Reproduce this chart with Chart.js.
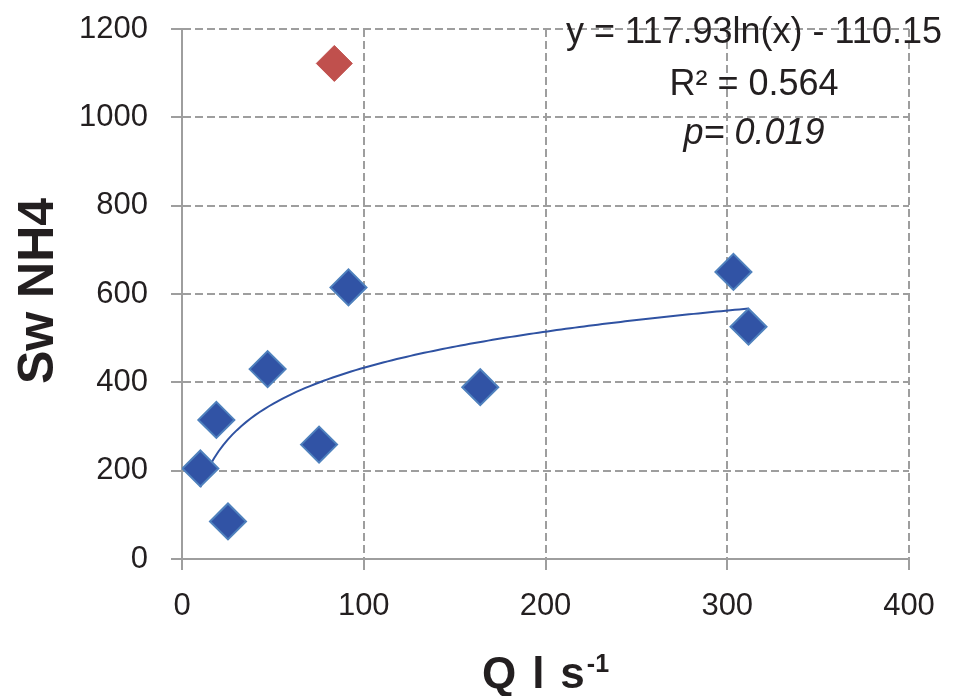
<!DOCTYPE html>
<html><head><meta charset="utf-8">
<script src="https://cdn.jsdelivr.net/npm/chart.js@4.4.1/dist/chart.umd.min.js"></script>
<style>html,body{margin:0;padding:0;background:#fff}#wrap{width:955px;height:696px}</style>
</head><body><div id="wrap"><canvas id="c" width="955" height="696"></canvas></div>
<script>
// ---- data ----
const qBlue   = [10.1, 18.9, 25.3, 47.1, 75.4, 91.6, 164.1, 303.4, 311.7];
const nh4Blue = [205, 315, 85, 430, 259, 615, 389, 650, 526];
const qRed    = [83.8];
const nh4Red  = [1122];
const xTickValues = [0, 100, 200, 300, 400];
const yTickValues = [0, 200, 400, 600, 800, 1000, 1200];
// logarithmic trendline as printed on the chart: y = a ln(x) + b
const fitA = 117.93;
const fitB = -110.15;
const annotationLines = ['y = 117.93ln(x) - 110.15', 'R\u00B2 = 0.564', 'p= 0.019'];
const xTitleMain = 'Q l s';
const xTitleSup = '-1';
const yTitle = 'Sw NH4';

// ---- derived ----
const bluePts = qBlue.map((q, i) => ({x: q, y: nh4Blue[i]}));
const redPts = qRed.map((q, i) => ({x: q, y: nh4Red[i]}));
const xMin = Math.min(...qBlue), xMax = Math.max(...qBlue);
const trendPts = [];
const N = 120;
for (let i = 0; i <= N; i++) {
  const x = xMin + (xMax - xMin) * i / N;
  trendPts.push({x, y: fitA * Math.log(x) + fitB});
}

const GRID = '#9E9E9E';
const TXT = '#231F20';
const FONT = '"Liberation Sans", Arial, sans-serif';

const textPlugin = {
  id: 'textPlugin',
  afterDraw(chart) {
    const ctx = chart.ctx;
    const ca = chart.chartArea;
    ctx.save();
    ctx.fillStyle = TXT;
    // annotation (trendline equation)
    ctx.textAlign = 'center';
    ctx.textBaseline = 'alphabetic';
    const cx = 754;
    ctx.font = '36px ' + FONT;
    ctx.fillText(annotationLines[0], cx, 43);
    ctx.fillText(annotationLines[1], cx, 95);
    ctx.font = 'italic 36px ' + FONT;
    ctx.fillText(annotationLines[2], cx, 144);

    // y title
    ctx.save();
    ctx.translate(53, (ca.top + ca.bottom) / 2 - 3);
    ctx.rotate(-Math.PI / 2);
    ctx.font = 'bold 50px ' + FONT;
    ctx.textAlign = 'center';
    ctx.fillText(yTitle, 0, 0);
    ctx.restore();

    // x title with superscript
    ctx.textAlign = 'left';
    ctx.font = 'bold 44px ' + FONT;
    const parts = xTitleMain.split(' ');
    const gap = 16;
    const widths = parts.map(p => ctx.measureText(p).width);
    ctx.font = 'bold 25px ' + FONT;
    const supW = ctx.measureText(xTitleSup).width;
    const total = widths.reduce((a, b) => a + b, 0) + gap * (parts.length - 1) + 2 + supW;
    let x = (ca.left + ca.right) / 2 - total / 2;
    const base = 688;
    ctx.font = 'bold 44px ' + FONT;
    parts.forEach((p, i) => {
      ctx.fillText(p, x, base);
      x += widths[i] + (i < parts.length - 1 ? gap : 0);
    });
    ctx.font = 'bold 25px ' + FONT;
    ctx.fillText(xTitleSup, x + 2, base - 16);
    ctx.restore();
  }
};

new Chart(document.getElementById('c'), {
  type: 'scatter',
  data: {
    datasets: [
      {
        label: 'Sw NH4',
        data: bluePts,
        pointStyle: 'rectRot',
        pointRadius: 18,
        pointHoverRadius: 18,
        backgroundColor: '#3153A5',
        borderColor: '#4F81BD',
        borderWidth: 2,
        order: 1
      },
      {
        label: 'outlier',
        data: redPts,
        pointStyle: 'rectRot',
        pointRadius: 18,
        pointHoverRadius: 18,
        backgroundColor: '#C0504D',
        borderColor: '#C0504D',
        borderWidth: 1,
        order: 0
      },
      {
        type: 'line',
        label: 'trend',
        data: trendPts,
        showLine: true,
        pointRadius: 0,
        borderColor: '#2F52A2',
        borderWidth: 2,
        fill: false,
        tension: 0,
        order: 5
      }
    ]
  },
  options: {
    responsive: false,
    animation: false,
    devicePixelRatio: 1,
    layout: {padding: {left: 0, right: 46, top: 29, bottom: 0}},
    plugins: {legend: {display: false}, tooltip: {enabled: false}},
    scales: {
      x: {
        type: 'linear', min: 0, max: 400,
        afterBuildTicks: s => { s.ticks = xTickValues.map(v => ({value: v})); },
        afterFit: s => { s.height = 137; s.paddingLeft = 0; s.paddingRight = 0; },
        ticks: {font: {family: FONT, size: 31}, color: TXT, padding: 18, maxRotation: 0,
                callback: v => String(v)},
        grid: {color: GRID, lineWidth: 2, tickLength: 11, tickColor: GRID, tickWidth: 2, tickBorderDash: []},
        border: {display: true, color: GRID, width: 2, dash: [8, 4]}
      },
      y: {
        type: 'linear', min: 0, max: 1200,
        afterBuildTicks: s => { s.ticks = yTickValues.map(v => ({value: v})); },
        afterFit: s => { s.width = 182; s.paddingTop = 0; s.paddingBottom = 0; },
        ticks: {font: {family: FONT, size: 31}, color: TXT, padding: 23,
                callback: v => String(v)},
        grid: {color: GRID, lineWidth: 2, tickLength: 11, tickColor: GRID, tickWidth: 2, tickBorderDash: []},
        border: {display: true, color: GRID, width: 2, dash: [8, 4]}
      }
    }
  },
  plugins: [textPlugin]
});
</script>
</body></html>
